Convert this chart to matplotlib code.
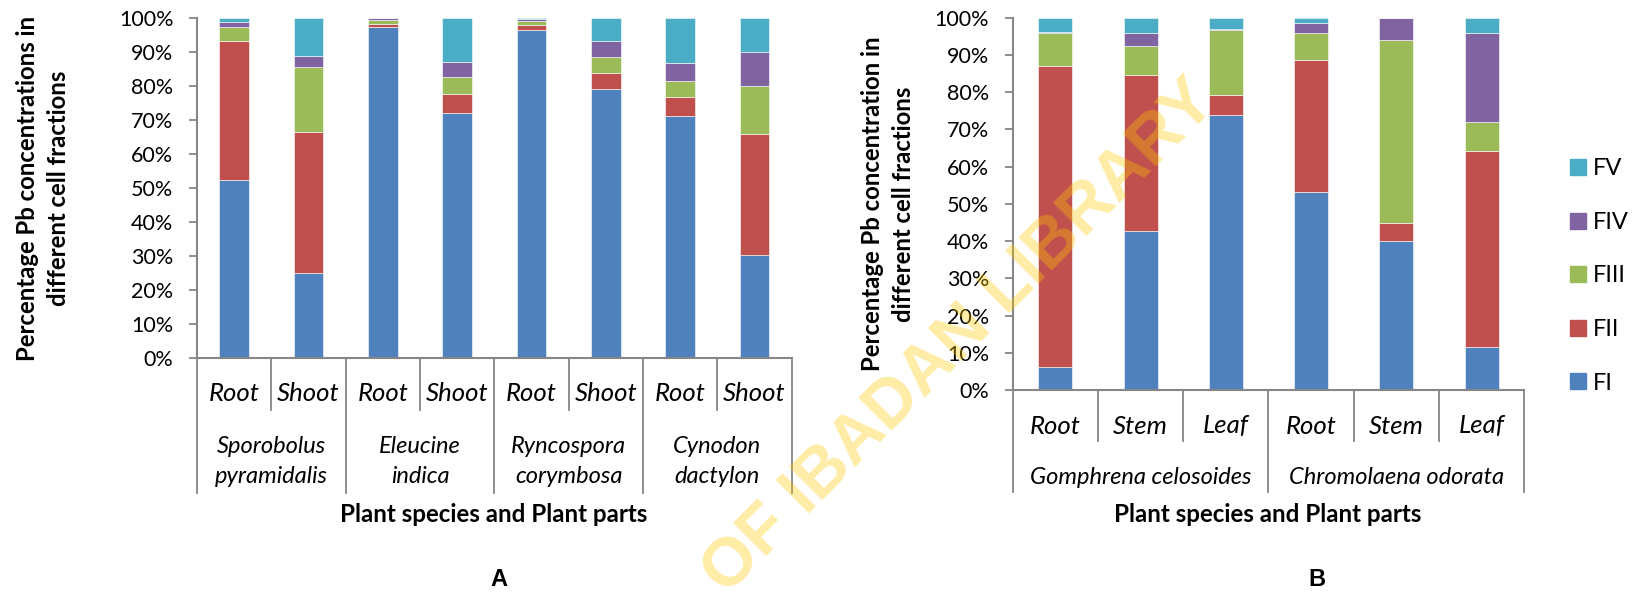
import numpy as np
import matplotlib
matplotlib.use("Agg")
import matplotlib.pyplot as plt
from matplotlib.ticker import PercentFormatter
from matplotlib.patches import Patch

plt.rcParams['font.family'] = ['Lato', 'DejaVu Sans']

fractions = ['FI', 'FII', 'FIII', 'FIV', 'FV']
colors = ['#4F81BD', '#C0504D', '#9BBB59', '#8064A2', '#4BACC6']

# panel A - grasses, root / shoot
a_parts = ['Root', 'Shoot'] * 4
a_species = ['Sporobolus\npyramidalis', 'Eleucine\nindica',
             'Ryncospora\ncorymbosa', 'Cynodon\ndactylon']
a_fI = [52.3, 25.0, 97.2, 71.9, 96.3, 79.1, 71.1, 30.3]
a_fII = [40.8, 41.5, 1.0, 5.8, 1.5, 4.6, 5.7, 35.5]
a_fIII = [4.3, 18.9, 1.2, 4.8, 1.2, 4.9, 4.6, 14.2]
a_fIV = [1.4, 3.5, 0.6, 4.4, 0.5, 4.5, 5.2, 10.0]
a_fV = [1.2, 11.1, 0.0, 13.1, 0.5, 6.9, 13.4, 10.0]

# panel B - broadleaf species, root / stem / leaf
b_parts = ['Root', 'Stem', 'Leaf'] * 2
b_species = ['Gomphrena celosoides', 'Chromolaena odorata']
b_fI = [6.3, 42.6, 73.8, 53.3, 39.9, 11.5]
b_fII = [80.8, 42.1, 5.5, 35.3, 4.9, 52.7]
b_fIII = [8.8, 7.6, 17.3, 7.4, 49.3, 7.9]
b_fIV = [0.2, 3.7, 0.3, 2.7, 5.9, 23.9]
b_fV = [3.9, 4.0, 3.1, 1.3, 0.0, 4.0]

W, H, DPI = 1633, 596, 100
fig = plt.figure(figsize=(W / DPI, H / DPI), dpi=DPI)
grey = '#868686'


def px_box(x0, y0, x1, y1):
    return [x0 / W, 1 - y1 / H, (x1 - x0) / W, (y1 - y0) / H]


def stacked(ax, series, parts, species, per_species, offs):
    x = np.arange(len(parts))
    bottom = np.zeros(len(parts))
    for vals, c in zip(series, colors):
        ax.bar(x, vals, 0.4, bottom=bottom, color=c, edgecolor='white', linewidth=0.4)
        bottom += np.array(vals)
    ax.set_xlim(-0.5, len(parts) - 0.5)
    ax.set_ylim(0, 100)
    ax.set_yticks(np.arange(0, 101, 10))
    ax.yaxis.set_major_formatter(PercentFormatter(decimals=0))
    ax.tick_params(axis='y', length=6, width=1.3, color=grey, labelsize=15.5, pad=11)
    ax.set_xticks([])
    for s in ['top', 'right']:
        ax.spines[s].set_visible(False)
    for s in ['left', 'bottom']:
        ax.spines[s].set_color(grey)
        ax.spines[s].set_linewidth(1.5)
    # multi-level category axis
    hpx = ax.get_position().height * H
    lab1, sep1, lab2, sep2 = [-o / hpx for o in offs]
    tr = ax.get_xaxis_transform()
    for i, p in enumerate(parts):
        ax.text(i, lab1, p, transform=tr, ha='center', va='center',
                fontsize=18.5, style='italic')
    for b in np.arange(len(parts) + 1) - 0.5:
        long_line = (b + 0.5) % per_species == 0
        ax.plot([b, b], [0, sep2 if long_line else sep1], transform=tr,
                color=grey, lw=1.3, clip_on=False)
    for j, sp in enumerate(species):
        ax.text(j * per_species + (per_species - 1) / 2, lab2, sp, transform=tr,
                ha='center', va='center', fontsize=17, style='italic',
                linespacing=1.5)


axA = fig.add_axes(px_box(197, 17.7, 791.7, 358.3))
stacked(axA, [a_fI, a_fII, a_fIII, a_fIV, a_fV], a_parts, a_species, 2,
        [35, 52, 103, 135])
axA.set_ylabel('Percentage Pb concentrations in\ndifferent cell fractions',
               fontsize=17.2, fontweight='bold', linespacing=1.4)
axA.yaxis.set_label_coords((70 - 197) / 594.7, 0.5)

axB = fig.add_axes(px_box(1012.7, 17.7, 1524.3, 390))
stacked(axB, [b_fI, b_fII, b_fIII, b_fIV, b_fV], b_parts, b_species, 3,
        [36, 51, 87, 102])
axB.set_ylabel('Percentage Pb concentration in\ndifferent cell fractions',
               fontsize=17.2, fontweight='bold', linespacing=1.4)
axB.yaxis.set_label_coords((915 - 1012.7) / 511.6, 0.5)

fig.text(494 / W, 1 - 515 / H, 'Plant species and Plant parts', ha='center',
         va='center', fontsize=17.4, fontweight='bold')
fig.text(1268 / W, 1 - 515 / H, 'Plant species and Plant parts', ha='center',
         va='center', fontsize=17.4, fontweight='bold')
fig.text(499 / W, 1 - 580 / H, 'A', ha='center', va='center', fontsize=17,
         fontweight='bold', family='Liberation Sans')
fig.text(1317 / W, 1 - 580 / H, 'B', ha='center', va='center', fontsize=17,
         fontweight='bold', family='Liberation Sans')

handles = [Patch(color=c) for c in colors][::-1]
fig.legend(handles, fractions[::-1], loc='center left',
           bbox_to_anchor=(1549 / W, 1 - 276 / H), frameon=False,
           fontsize=17, handlelength=0.65, handleheight=0.65,
           handletextpad=0.3, labelspacing=1.38)

fig.text(960 / W, 1 - 338 / H, 'OF IBADAN LIBRARY', rotation=45,
         rotation_mode='anchor', ha='center', va='center', fontsize=49,
         fontweight='bold', family='Liberation Sans', color='#FFC800',
         alpha=0.35, zorder=10)

fig.savefig('out.png', dpi=DPI)
